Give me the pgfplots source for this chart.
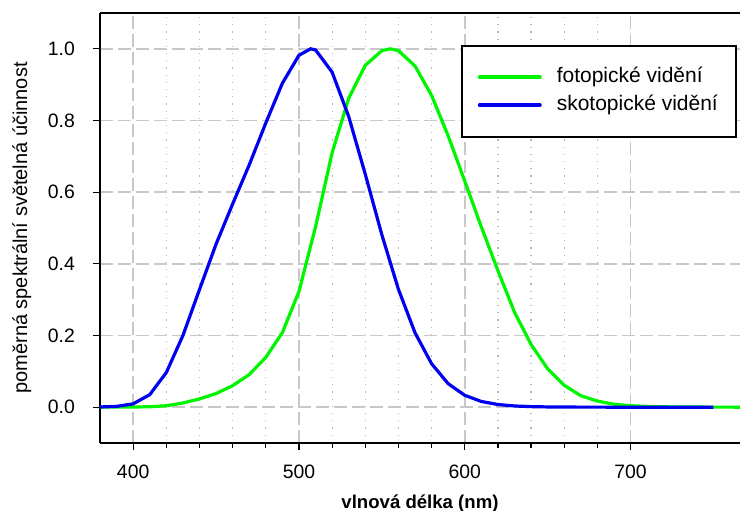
\documentclass[border=0pt]{standalone}
\usepackage{pgfplots}
\pgfplotsset{compat=1.18}
\usepackage{fontspec}
\setmainfont{Liberation Sans}
\definecolor{fotgreen}{RGB}{0,245,0}
\definecolor{skotblue}{RGB}{0,0,240}
\definecolor{gridmaj}{RGB}{200,200,200}
\definecolor{gridmin}{RGB}{185,185,185}
\pgfplotstableread{
x y
380 0.000039
390 0.00012
400 0.000396
410 0.00121
420 0.004
430 0.0116
440 0.023
450 0.038
460 0.060
470 0.091
480 0.139
490 0.208
500 0.323
510 0.503
520 0.710
530 0.862
540 0.954
550 0.995
555 1.000
560 0.995
570 0.952
580 0.870
590 0.757
600 0.631
610 0.503
620 0.381
630 0.265
640 0.175
650 0.107
660 0.061
670 0.032
680 0.017
690 0.0082
700 0.0041
710 0.0021
720 0.00105
730 0.00052
740 0.00025
750 0.00012
760 0.00006
770 0.00003
}\fotopicke
\pgfplotstableread{
x y
380 0.000589
390 0.002209
400 0.00929
410 0.03484
420 0.0966
430 0.1998
440 0.3281
450 0.455
460 0.567
470 0.676
480 0.793
490 0.904
500 0.982
507 1.000
510 0.997
520 0.935
530 0.811
540 0.650
550 0.481
560 0.3288
570 0.2076
580 0.1212
590 0.0655
600 0.03315
610 0.01593
620 0.00737
630 0.003335
640 0.001497
650 0.000677
660 0.000313
670 0.000148
680 0.0000715
690 0.0000353
700 0.0000178
710 0.0000091
720 0.0000048
730 0.0000025
740 0.0000014
750 0.0000008
}\skotopicke
\begin{document}
\begin{tikzpicture}
\begin{axis}[
  scale only axis,
  width=320pt, height=215pt,
  xmin=380, xmax=766,
  ymin=-0.1, ymax=1.1,
  axis x line=box, axis y line=left,
  axis line style={-, black, line width=0.8pt},
  xtick={400,500,600,700},
  minor x tick num=4,
  ytick={0,0.2,0.4,0.6,0.8,1.0},
  xtick pos=bottom,
  tick align=outside,
  major tick length=3.5pt,
  minor tick length=2.5pt,
  tick style={black, line width=0.6pt},
  grid=both,
  major grid style={gridmaj, line width=0.8pt, dash pattern=on 6.5pt off 2.5pt},
  minor x grid style={gridmin, line width=0.6pt, dash pattern=on 0.6pt off 3pt},
  minor y grid style={draw=none},
  /pgf/number format/assume math mode=true,
  ticklabel style={font=\fontsize{9.7}{11}\selectfont},
  yticklabel style={/pgf/number format/fixed, /pgf/number format/precision=1, /pgf/number format/fixed zerofill, xshift=-5.5pt},
  xticklabel style={/pgf/number format/1000 sep={}, yshift=-4pt},
  xlabel={\textbf{vlnová délka (nm)}},
  xlabel style={font=\fontsize{9.3}{11}\selectfont, at={(axis description cs:0.5,-0.142)}, anchor=center},
  ylabel={poměrná spektrální světelná účinnost},
  ylabel style={font=\fontsize{10}{12}\selectfont, at={(axis description cs:-0.122,0.5)}, anchor=center, rotate=0},
  legend cell align=left,
  legend style={at={(axis description cs:0.564,0.9256)}, anchor=north west,
    draw=black, line width=0.8pt, fill=white,
    inner xsep=8pt, inner ysep=9.5pt, row sep=1.5pt,
    font=\fontsize{10.5}{12}\selectfont,
    nodes={inner sep=1pt, text height=8pt, text depth=2.5pt},
    /tikz/every odd column/.append style={column sep=6.5pt}},
  legend image code/.code={\draw[#1, line width=2pt, line cap=round] (0pt,0pt) -- (30pt,0pt);},
]
\addplot[fotgreen, line width=1.6pt] table[x=x,y=y] {\fotopicke};
\addlegendentry{fotopické vidění}
\addplot[skotblue, line width=1.6pt] table[x=x,y=y] {\skotopicke};
\addlegendentry{skotopické vidění}
\end{axis}
\pgfresetboundingbox
\path[use as bounding box] ([xshift=-50pt,yshift=-33.5pt]current axis.south west) rectangle ([yshift=6.5pt]current axis.north east);
\end{tikzpicture}
\end{document}
